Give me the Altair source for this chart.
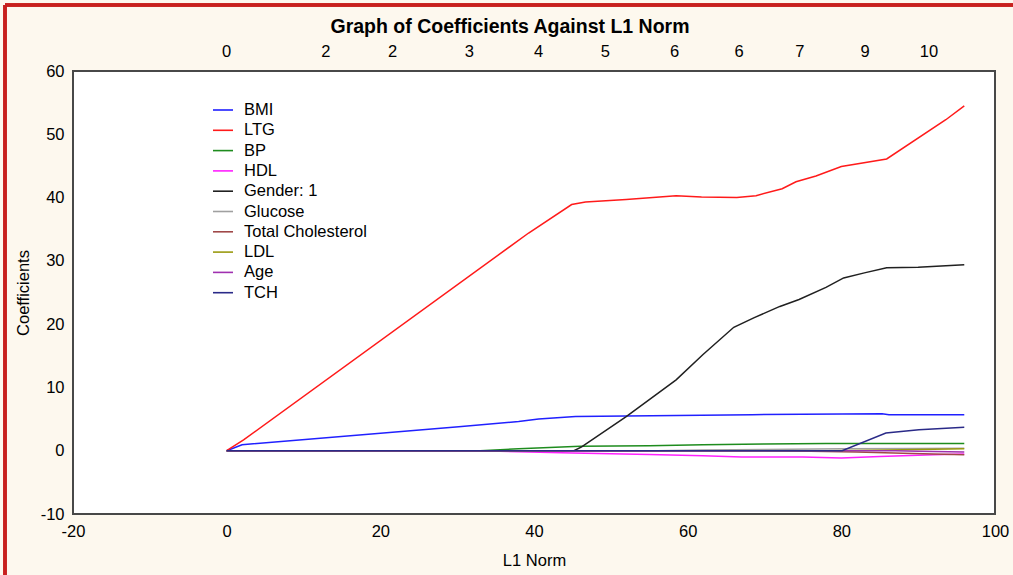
import altair as alt
import pandas as pd

# Lasso coefficient paths against the L1 norm of the coefficient vector
series_names = ["BMI", "LTG", "BP", "HDL", "Gender: 1", "Glucose",
                "Total Cholesterol", "LDL", "Age", "TCH"]
series_colors = ["#2020FF", "#FF1A1A", "#1E8C1E", "#FF20FF", "#202020",
                 "#A0A0A0", "#A04848", "#9A9A10", "#A030B0", "#2A2A88"]

bmi_x = [0, 2.0, 30.2, 38.0, 40.6, 45.4, 52, 68.4, 85.3, 86.2, 96]
bmi_y = [0, 0.95, 3.8, 4.6, 5.0, 5.4, 5.5, 5.7, 5.85, 5.7, 5.7]

ltg_x = [0, 2.2, 39.3, 44.9, 46.7, 52, 58.5, 61.8, 66.4, 68.9, 72.3, 74.1,
         76.7, 80.0, 85.9, 93.6, 96.0]
ltg_y = [0, 1.7, 34.4, 38.9, 39.3, 39.7, 40.3, 40.1, 40.0, 40.3, 41.4, 42.5,
         43.4, 44.9, 46.1, 52.3, 54.5]

bp_x = [0, 33, 38, 42, 46, 55, 62, 70, 78, 96]
bp_y = [0, 0, 0.3, 0.5, 0.7, 0.8, 0.95, 1.05, 1.15, 1.15]

hdl_x = [0, 33, 38, 45, 55, 62, 67, 75, 80, 85, 92, 96]
hdl_y = [0, 0, -0.15, -0.37, -0.6, -0.8, -1.0, -1.0, -1.15, -0.9, -0.65, -0.5]

gender_x = [0, 45.2, 46.2, 52, 58.5, 62, 66, 68.6, 72, 74.5, 78, 80.3, 83,
            85.9, 90, 96]
gender_y = [0, 0, 0.6, 5.4, 11.2, 15.2, 19.5, 21.0, 22.8, 23.9, 25.8, 27.3,
            28.1, 28.9, 29.0, 29.4]

glucose_x = [0, 56, 62, 70, 80, 90, 96]
glucose_y = [0, 0, 0.1, 0.2, 0.3, 0.35, 0.4]

chol_x = [0, 70, 76, 82, 88, 96]
chol_y = [0, 0, -0.1, -0.2, -0.4, -0.65]

ldl_x = [0, 78, 82, 88, 96]
ldl_y = [0, 0, 0.05, 0.15, 0.3]

age_x = [0, 87, 90, 96]
age_y = [0, 0, -0.1, -0.2]

tch_x = [0, 80.1, 85.8, 90.1, 96]
tch_y = [0, 0, 2.8, 3.3, 3.7]

# Number of non-zero coefficients along the path (top axis)
count_pos = [0, 12.9, 21.6, 31.6, 40.6, 49.3, 58.3, 66.7, 74.6, 83.1, 91.4]
count_labels = ["0", "2", "2", "3", "4", "5", "6", "6", "7", "9", "10"]

chart_title = ["Graph of Coefficients Against L1 Norm"]

paths = [(bmi_x, bmi_y), (ltg_x, ltg_y), (bp_x, bp_y), (hdl_x, hdl_y),
         (gender_x, gender_y), (glucose_x, glucose_y), (chol_x, chol_y),
         (ldl_x, ldl_y), (age_x, age_y), (tch_x, tch_y)]

rows = []
for name, (xs, ys) in zip(series_names, paths):
    for i, (xv, yv) in enumerate(zip(xs, ys)):
        rows.append({"series": name, "norm": xv, "coef": yv, "step": i})
df = pd.DataFrame(rows)
counts = pd.DataFrame({"norm": count_pos, "label": count_labels})
title_df = pd.DataFrame({"text": chart_title})

FONT = "Liberation Sans"
FS = 16.5
W, H = 922, 443

# plain hyphen for negative tick labels
HYPHEN_LABEL = "datum.value < 0 ? '-' + abs(datum.value) : '' + datum.value"

x_scale = alt.Scale(domain=[-20, 100], nice=False, zero=False)
y_scale = alt.Scale(domain=[-10, 60], nice=False, zero=False)

lines = alt.Chart(df).mark_line(strokeWidth=1.5, clip=True).encode(
    x=alt.X("norm:Q", scale=x_scale,
            axis=alt.Axis(title="L1 Norm", values=[-20, 0, 20, 40, 60, 80, 100],
                          labelExpr=HYPHEN_LABEL, labelFlush=False,
                          labelPadding=9, titlePadding=13)),
    y=alt.Y("coef:Q", scale=y_scale,
            axis=alt.Axis(title="Coefficients", values=[-10, 0, 10, 20, 30, 40, 50, 60],
                          labelExpr=HYPHEN_LABEL, labelFlush=False,
                          labelPadding=9, titlePadding=9)),
    color=alt.Color("series:N",
                    scale=alt.Scale(domain=series_names, range=series_colors),
                    sort=series_names,
                    legend=alt.Legend(title=None, orient="none", legendX=139, legendY=28,
                                      symbolType="stroke", symbolSize=400,
                                      symbolStrokeWidth=1.6, labelFontSize=FS,
                                      labelFont=FONT, labelColor="#000000",
                                      labelOffset=10, rowPadding=0.3, padding=0)),
    order=alt.Order("step:Q"),
)

top_labels = alt.Chart(counts).mark_text(
    font=FONT, fontSize=FS, color="#000000", baseline="middle", align="center"
).encode(
    x=alt.X("norm:Q", scale=x_scale),
    y=alt.value(-19),
    text="label:N",
)

title_text = alt.Chart(title_df).mark_text(
    font=FONT, fontSize=19.5, fontWeight="bold", color="#000000",
    baseline="middle", align="center"
).encode(
    x=alt.value(W / 2 - 24),
    y=alt.value(-44),
    text="text:N",
)

# Red outer frame along the top and left edges
frame_left = alt.Chart(counts).mark_rule(color="#C8201E", strokeWidth=2.5).encode(
    x=alt.value(-68), y=alt.value(-66), y2=alt.value(H + 61)
)
frame_top = alt.Chart(counts).mark_rule(color="#C8201E", strokeWidth=2.5).encode(
    x=alt.value(-68), x2=alt.value(W + 18), y=alt.value(-66)
)

chart = alt.layer(lines, top_labels, title_text, frame_left, frame_top).properties(
    width=W,
    height=H,
    background="#FDF8EE",
    padding={"left": 73, "top": 71, "right": 18, "bottom": 61},
    autosize=alt.AutoSizeParams(type="none"),
).configure_view(
    fill="#FFFFFF", stroke="#484848", strokeWidth=2
).configure_axis(
    grid=False, domain=False, ticks=False,
    labelFont=FONT, labelFontSize=FS, labelColor="#000000",
    titleFont=FONT, titleFontSize=FS, titleFontWeight="normal", titleColor="#000000",
)

chart.save("out.html", embed_options={"renderer": "svg", "actions": False})
